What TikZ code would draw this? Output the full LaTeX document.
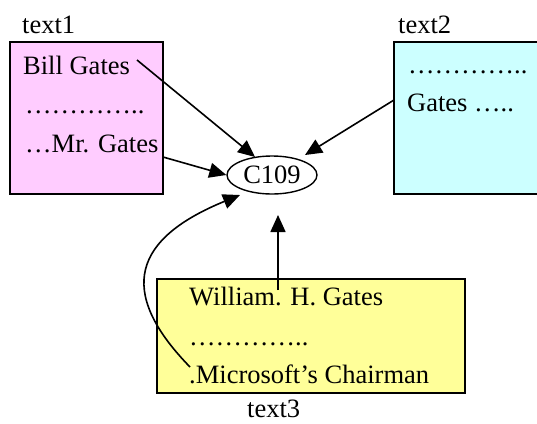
\documentclass[tikz,border=0pt]{standalone}
\usepackage{fontspec}
\setmainfont{Liberation Serif}
\usetikzlibrary{arrows.meta,shapes.geometric}
\definecolor{boxpink}{RGB}{255,204,255}
\definecolor{boxcyan}{RGB}{204,255,255}
\definecolor{boxyellow}{RGB}{255,255,153}
\tikzset{
  txt/.style={anchor=base west,inner sep=0pt,font=\fontsize{26.5}{30}\selectfont},
  docbox/.style={draw=black,line width=1.6pt},
  link/.style={line width=1.6pt,-{Triangle[length=17pt,width=15pt]}},
}
\begin{document}
\begin{tikzpicture}[x=1pt,y=-1pt]
\useasboundingbox (0,0) rectangle (537,423);
% document boxes
\draw[docbox,fill=boxpink] (10,42) rectangle (163,194);
\draw[docbox,fill=boxcyan] (394,42) rectangle (545,194);
\draw[docbox,fill=boxyellow] (157,279) rectangle (465,393);
\coordinate (b1e) at (163,157);
\coordinate (b2w) at (394,100);
% titles
\node[txt] (t1) at (22,33) {text1};
\node[txt] (t2) at (398,33) {text2};
\node[txt] (t3) at (247,417) {text3};
% first document
\node[txt] (bill) at (23,74) {Bill Gates};
\node[txt] (d1) at (25,113) {…………..};
\node[txt] (mr) at (25,152) {…Mr. Gates};
% second document
\node[txt] (d2) at (408,73) {…………..};
\node[txt] (g2) at (407,111) {Gates …..};
% third document
\node[txt] (wil) at (189,305) {William. H. Gates};
\node[txt] (d3) at (189,345) {…………..};
\node[txt] (ms) at (189,383) {.Microsoft’s Chairman};
% entity
\node[draw,line width=1.4pt,ellipse,minimum width=90pt,minimum height=38pt,inner sep=0pt,
      font=\fontsize{26.5}{30}\selectfont] (c) at (272,175) {C109};
% links to the entity
\coordinate (s1) at (137,60);
\coordinate (e1) at (255,157);
\coordinate (e3) at (305,155);
\coordinate (s4) at (278,290);
\coordinate (e4) at (278,215);
\coordinate (s5) at (190,367);
\coordinate (e5) at (240,195);
\draw[link] (s1) -- (e1);
\draw[link] (b1e) -- (c.west);
\draw[link] (b2w) -- (e3);
\draw[link] (s4) -- (e4);
\draw[link] (s5) .. controls (115,290) and (135,238) .. (e5);
\end{tikzpicture}
\end{document}
